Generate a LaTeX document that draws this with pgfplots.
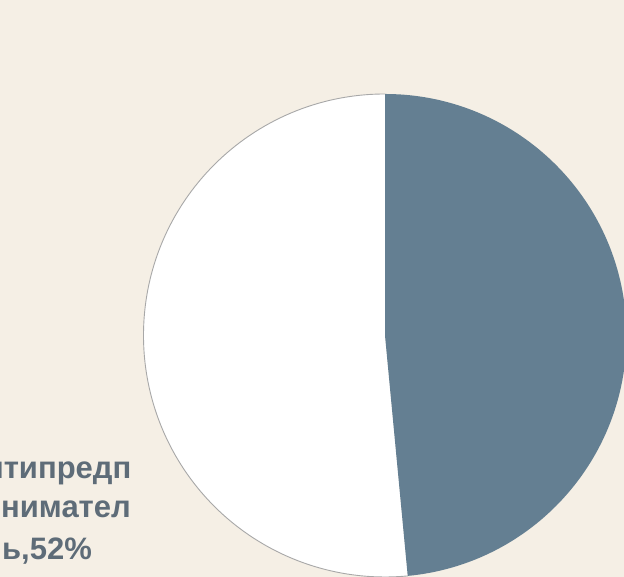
\documentclass[border=0pt]{standalone}
\usepackage{fontspec}
\setmainfont{Liberation Sans}
\usepackage{pgfplots}
\usepackage{pgfplotstable}
\pgfplotsset{compat=1.18}
\definecolor{bgc}{HTML}{F5EFE5}
\definecolor{piebl}{HTML}{647F92}
\definecolor{labc}{HTML}{5E6C78}
\definecolor{edgec}{HTML}{A8A8A8}
\pgfplotstableread{
label value
Antipred 51.5
Other 48.5
}\piedata
\begin{document}
\begin{tikzpicture}
\useasboundingbox (0,0) rectangle (624pt,577pt);
\clip (0,0) rectangle (624pt,577pt);
\fill[bgc] (0,0) rectangle (624pt,577pt);
\pgfplotstablegetelem{0}{value}\of\piedata
\pgfmathsetmacro\va{\pgfplotsretval}
\pgfplotstablegetelem{1}{value}\of\piedata
\pgfmathsetmacro\vb{\pgfplotsretval}
\pgfmathsetmacro\angb{90-3.6*\vb}
\pgfmathsetmacro\anga{90+3.6*\va}
\begin{axis}[
  at={(385pt,241.5pt)}, anchor=center,
  scale only axis, width=483pt, height=483pt,
  xmin=-1, xmax=1, ymin=-1, ymax=1,
  hide axis, clip=false]
  \fill[white] (axis cs:0,0) -- (axis cs:0,1) arc[start angle=90, end angle=\anga, radius=241.5pt] -- cycle;
  \fill[piebl] (axis cs:0,0) -- (axis cs:0,1) arc[start angle=90, end angle=\angb, radius=241.5pt] -- cycle;
  \draw[edgec, line width=0.9pt] (axis cs:0,1) arc[start angle=90, end angle=\anga, radius=241.5pt];
\end{axis}
\begin{scope}[every node/.style={anchor=base, text=labc, font=\bfseries\fontsize{31}{37}\selectfont, inner sep=0pt}]
\node at (47pt,98pt) {Антипредп};
\node at (47pt,59pt) {ринимател};
\node at (47pt,17pt) {ь,52\%};
\end{scope}
\end{tikzpicture}
\end{document}
